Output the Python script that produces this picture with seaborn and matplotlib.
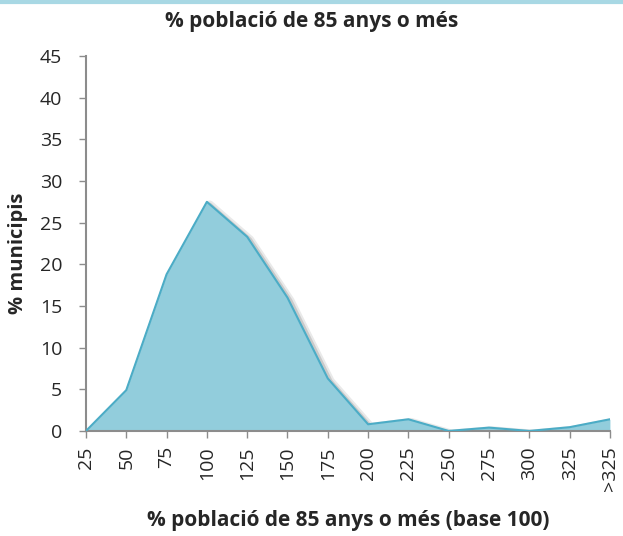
import matplotlib
matplotlib.use("Agg")
import matplotlib.pyplot as plt
import matplotlib.transforms as mtransforms
import seaborn as sns
import pandas as pd

categories = ['25', '50', '75', '100', '125', '150', '175', '200', '225',
              '250', '275', '300', '325', '>325']
pct_municipis = [0, 4.9, 18.8, 27.5, 23.3, 16.0, 6.3, 0.8, 1.4, 0, 0.4, 0, 0.45, 1.4]

df = pd.DataFrame({'pos': range(len(categories)), 'pct': pct_municipis})

sns.set_style('white')
plt.rcParams['font.family'] = ['Open Sans', 'DejaVu Sans']

fig = plt.figure(figsize=(6.23, 5.36), dpi=100)
ax = fig.add_axes([0.138, 0.196, 0.979 - 0.138, 0.8955 - 0.196])

fill_col = '#92cddc'
line_col = '#4bacc6'

# soft shadow behind the area (offset down-right), two passes to blur it a bit
shadow_tr = mtransforms.offset_copy(ax.transData, fig=fig, x=2, y=-2, units='points')
ax.plot(df['pos'], df['pct'], color='#707070', alpha=0.15, linewidth=6,
        transform=shadow_tr, zorder=1, solid_joinstyle='round')
ax.plot(df['pos'], df['pct'], color='#707070', alpha=0.25, linewidth=3,
        transform=shadow_tr, zorder=1, solid_joinstyle='round')

ax.fill_between(df['pos'], df['pct'], 0, color=fill_col, zorder=2, linewidth=0)
sns.lineplot(data=df, x='pos', y='pct', color=line_col, linewidth=1.5, ax=ax, zorder=3)

ax.set_xlim(0, len(categories) - 1)
ax.set_ylim(0, 45)
ax.set_yticks(range(0, 46, 5))
ax.set_xticks(df['pos'])
ax.set_xticklabels(categories, rotation=90)
ax.tick_params(axis='both', labelsize=14, length=5, width=1, color='#8c8c8c',
               direction='out', bottom=True, left=True)
ax.tick_params(axis='x', pad=6)
ax.tick_params(axis='y', pad=12)

for s in ['top', 'right']:
    ax.spines[s].set_visible(False)
for s in ['left', 'bottom']:
    ax.spines[s].set_color('#8c8c8c')
    ax.spines[s].set_linewidth(1.5)

ax.set_xlabel('% població de 85 anys o més (base 100)', fontsize=15, fontweight='bold')
ax.xaxis.set_label_coords(0.5, -0.212)
ax.set_ylabel('% municipis', fontsize=14.5, fontweight='bold')
ax.yaxis.set_label_coords(-0.111, 0.473)
fig.suptitle('% població de 85 anys o més', fontsize=15, fontweight='bold', y=0.979)

fig.add_artist(plt.Line2D([0, 1], [0.997, 0.997], color='#a8d8e4', linewidth=3,
                          transform=fig.transFigure))

fig.savefig('out.png', dpi=100)
